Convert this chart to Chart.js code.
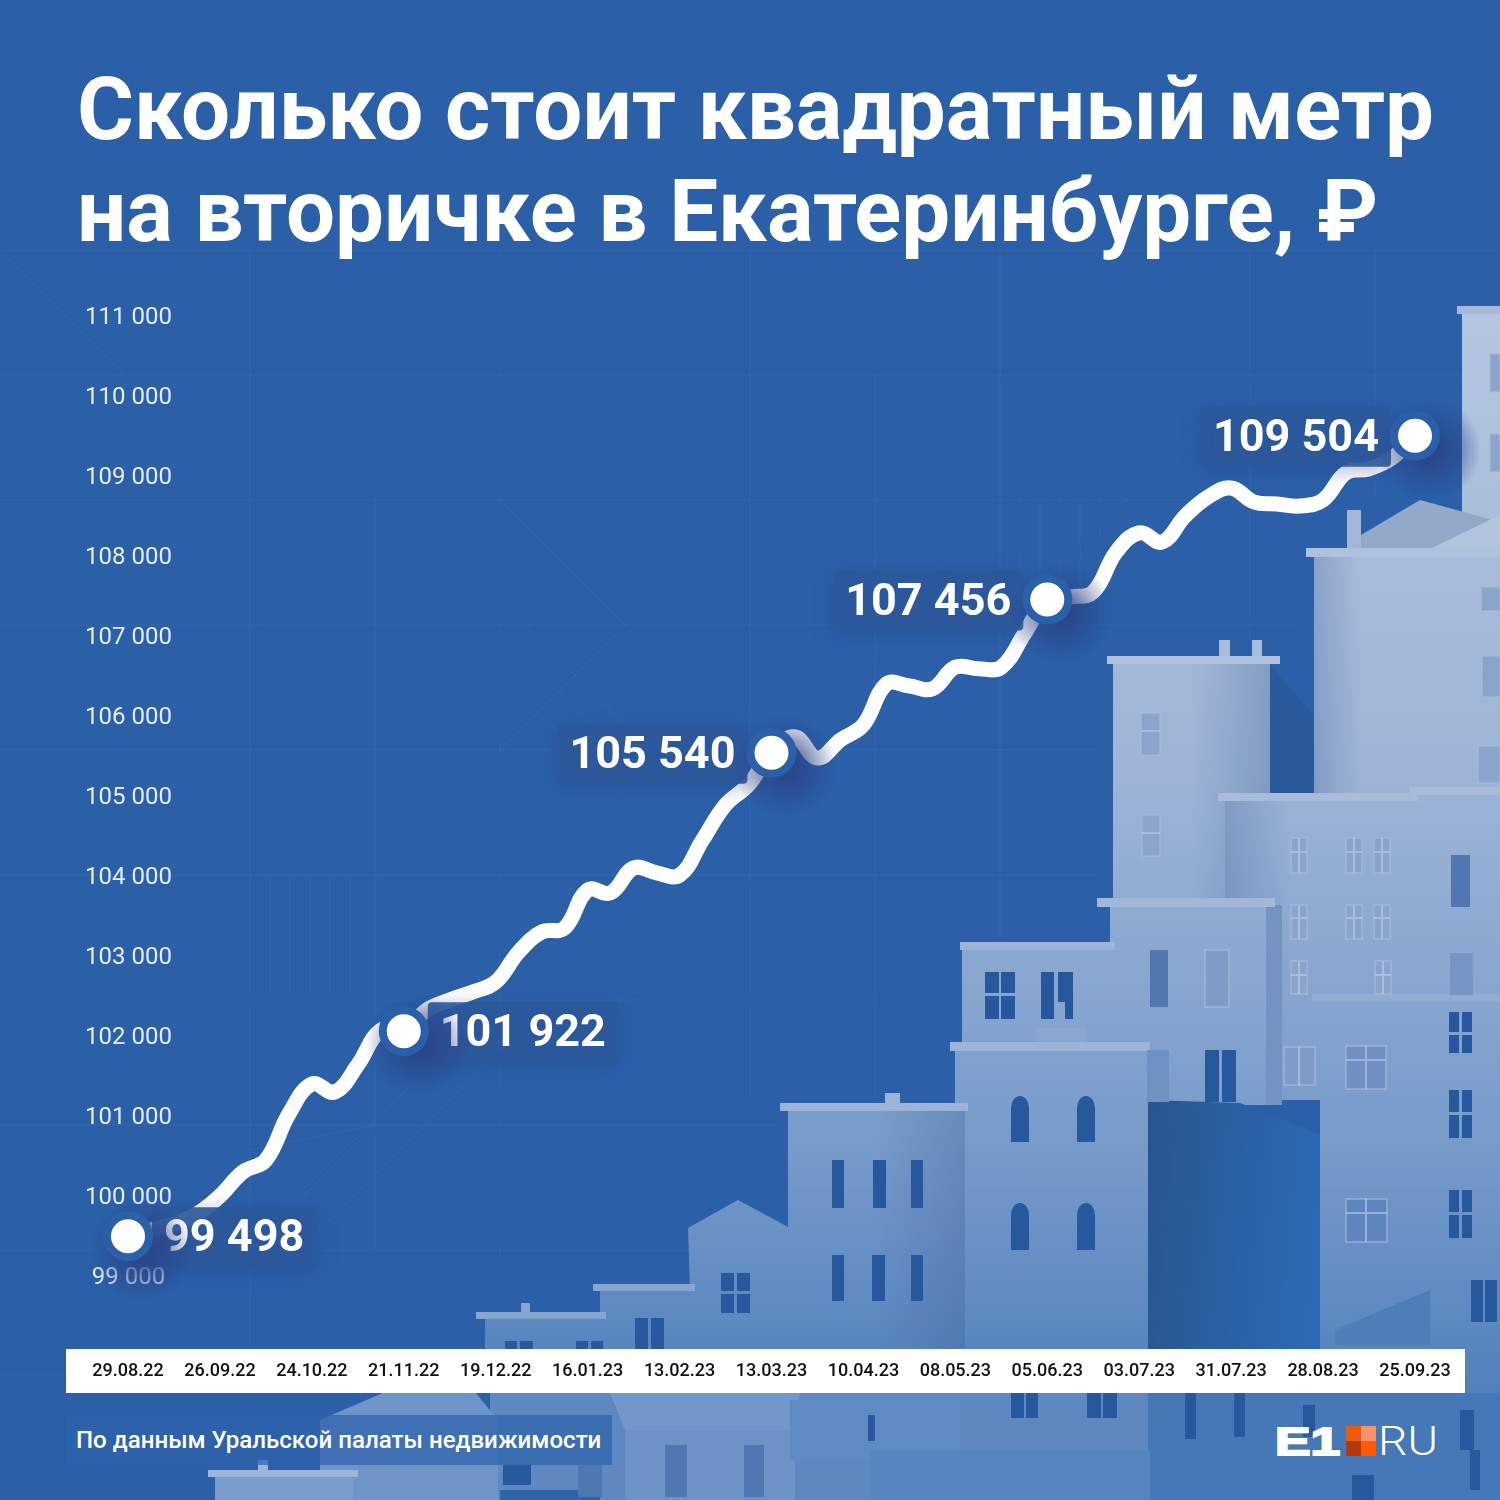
<!DOCTYPE html>
<html lang="ru">
<head>
<meta charset="utf-8">
<title>Сколько стоит квадратный метр</title>
<script src="https://cdn.jsdelivr.net/npm/chart.js@4"></script>
<style>
  html, body { margin: 0; padding: 0; background: #2b60a8; }
  #page { position: relative; width: 1500px; height: 1500px; overflow: hidden; background: #2b60a8; font-family: Roboto, sans-serif; color: #fff; }
  #bg, #chart { position: absolute; left: 0; top: 0; }
  #title { position: absolute; left: 77px; top: 58px; margin: 0; font-size: 87px; line-height: 102px; font-weight: 700; white-space: nowrap; }
  #band { position: absolute; left: 66px; top: 1349px; width: 1399px; height: 44px; background: #fff; }
  #source { position: absolute; left: 66px; top: 1415px; width: 546px; height: 50px; line-height: 50px; box-sizing: border-box; padding-left: 10px; background: rgba(46,98,170,.72); font-size: 24.1px; font-weight: 500; white-space: nowrap; }
  #logo { position: absolute; left: 1275px; top: 1426px; width: 165px; height: 30px; }
</style>
</head>
<body>
<div id="page">
  <!-- фон: сетка и дома, чисто декоративно -->
  <svg id="bg" width="1500" height="1500" viewBox="0 0 1500 1500" xmlns="http://www.w3.org/2000/svg">
    <defs>
      <linearGradient id="house" gradientUnits="userSpaceOnUse" x1="0" y1="300" x2="0" y2="1500">
        <stop offset="0" stop-color="#b5c6e0"/>
        <stop offset="0.4" stop-color="#9db4d6"/>
        <stop offset="0.7" stop-color="#789bca"/>
        <stop offset="0.9" stop-color="#5482bd"/>
        <stop offset="1" stop-color="#3f70b2"/>
      </linearGradient>
      <linearGradient id="wall" x1="0" y1="0" x2="1" y2="0.2">
        <stop offset="0" stop-color="#28558f"/>
        <stop offset="1" stop-color="#2c6ab4"/>
      </linearGradient>
      <linearGradient id="shadeR" x1="0" y1="0" x2="1" y2="0">
        <stop offset="0.5" stop-color="#3d5f96" stop-opacity="0"/>
        <stop offset="1" stop-color="#3d5f96" stop-opacity=".3"/>
      </linearGradient>
      <linearGradient id="shadeL" x1="0" y1="0" x2="1" y2="0">
        <stop offset="0" stop-color="#3d5f96" stop-opacity=".28"/>
        <stop offset="0.35" stop-color="#3d5f96" stop-opacity="0"/>
      </linearGradient>
    </defs>
    <g stroke="#fff" stroke-opacity=".04" fill="none">
      <path d="M0 250H1500M0 375H1500M0 500H1300M0 625H1300M0 750H1100M0 875H1100M0 1000H960M0 1125H780M0 1250H690M0 1375H480"/>
      <path d="M250 250V1400M375 500V1250M500 250V1300M750 250V1100M875 375V1100M1000 250V940M1250 250V640M1375 250V500"/>
      <path d="M0 250L125 375M250 625L375 750M500 500L625 625M625 625L500 750M375 1125L250 1250M500 1000L375 875M750 875L625 1000M875 500L1000 625M1000 375L1250 625M1250 375L1000 625"/>
      <path d="M270 875V1000M290 875V1000M310 875V1000M330 875V1000M350 875V1000M1020 500V625M1040 500V625M1060 500V625M1080 500V625M1100 500V625"/>
      <path d="M250 1150L375 1125M250 1240L500 1000M300 1250L500 1050M525 625L625 725M525 660L625 760M525 700L620 795"/>
    </g>

    <!-- дальние дома -->
    <rect x="1462" y="312" width="38" height="220" fill="url(#house)"/>
    <rect x="1457" y="306" width="43" height="8" fill="#a5b9d8"/>
    <polygon points="1361,535 1420,500 1500,522 1440,550 1361,550" fill="#94a9ca"/>
    <polygon points="1432,548 1500,515 1500,552" fill="#b3c4de"/>
    <rect x="1347" y="510" width="14" height="40" fill="#a2b6d6"/>

    <rect x="1314" y="556" width="131" height="250" fill="url(#house)"/>
    <rect x="1314" y="556" width="131" height="250" fill="url(#shadeL)"/>
    <rect x="1445" y="552" width="55" height="250" fill="url(#house)"/>
    <rect x="1306" y="548" width="194" height="9" fill="#afc1dc"/>

    <polygon points="1270,665 1314,715 1314,795 1270,795" fill="#2a5a9c"/>
    <rect x="1113" y="662" width="157" height="245" fill="url(#house)"/>
    <rect x="1113" y="662" width="157" height="245" fill="url(#shadeR)"/>
    <rect x="1219" y="640" width="11" height="18" fill="#a9bcda"/>
    <rect x="1252" y="640" width="10" height="18" fill="#a9bcda"/>
    <rect x="1107" y="656" width="173" height="8" fill="#afc1dc"/>

    <rect x="1225" y="800" width="190" height="300" fill="url(#house)"/>
    <rect x="1225" y="800" width="190" height="300" fill="url(#shadeL)"/>
    <rect x="1415" y="792" width="85" height="300" fill="url(#house)"/>
    <rect x="1218" y="793" width="200" height="8" fill="#a9bcda"/>
    <rect x="1410" y="787" width="90" height="8" fill="#a9bcda"/>

    <rect x="1110" y="905" width="156" height="200" fill="url(#house)"/>
    <rect x="1266" y="905" width="16" height="200" fill="#7593c0"/>
    <rect x="1097" y="898" width="178" height="9" fill="#a3b8d8"/>

    <polygon points="1148,1100 1240,1103 1322,1135 1322,1500 1148,1500" fill="url(#wall)"/>

    <rect x="1320" y="1000" width="180" height="500" fill="url(#house)"/>
    <rect x="1312" y="994" width="188" height="8" fill="#93acd2"/>
    <polygon points="1335,1330 1430,1290 1430,1345 1335,1345" fill="#4f7db8"/>

    <rect x="962" y="950" width="150" height="100" fill="url(#house)"/>
    <rect x="960" y="942" width="155" height="8" fill="#9db4d6"/>
    <rect x="955" y="1050" width="193" height="300" fill="url(#house)"/>
    <rect x="950" y="1042" width="200" height="9" fill="#9db4d6"/>
    <rect x="1036" y="1028" width="50" height="14" fill="#8aa6cf"/>

    <rect x="788" y="1110" width="177" height="240" fill="url(#house)"/>
    <rect x="788" y="1110" width="177" height="240" fill="url(#shadeR)"/>
    <rect x="780" y="1103" width="188" height="8" fill="#9db4d6"/>
    <rect x="885" y="1093" width="15" height="10" fill="#9db4d6"/>

    <polygon points="688,1228 738,1200 790,1228 790,1350 692,1350" fill="url(#house)"/>
    <rect x="600" y="1291" width="92" height="60" fill="url(#house)"/>
    <rect x="593" y="1284" width="102" height="7" fill="#88a5cf"/>
    <rect x="485" y="1318" width="115" height="32" fill="url(#house)"/>
    <rect x="476" y="1312" width="130" height="7" fill="#88a5cf"/>
    <rect x="521" y="1303" width="9" height="9" fill="#88a5cf"/>

    <!-- нижний ряд под белой полосой -->
    <rect x="490" y="1393" width="660" height="107" fill="#5f88c1"/>
    <rect x="1148" y="1393" width="352" height="107" fill="#4677b6"/>
    <polygon points="320,1420 385,1392 475,1392 498,1420 498,1500 320,1500" fill="#6f94c8"/>
    <polygon points="610,1393 800,1393 790,1430 712,1448 625,1430" fill="#7297cb"/>
    <rect x="625" y="1430" width="170" height="70" fill="#6d92c7"/>
    <rect x="790" y="1400" width="170" height="60" fill="#608ac3"/>
    <rect x="870" y="1450" width="280" height="50" fill="#5785c0"/>
    <rect x="500" y="1490" width="100" height="10" fill="#2e64ad"/>
    <rect x="215" y="1476" width="138" height="24" fill="#7a9ccd"/>
    <rect x="208" y="1470" width="150" height="7" fill="#9cb5d9"/>
    <rect x="258" y="1460" width="10" height="10" fill="#9cb5d9"/>

    <!-- окна светлые -->
    <g fill="#8aa4cb" stroke="#a9bcd9" stroke-width="2" stroke-opacity=".55">
      <rect x="1141" y="713" width="19" height="42"/>
      <rect x="1142" y="815" width="18" height="41"/>
      <rect x="1291" y="838" width="16" height="35"/><rect x="1346" y="838" width="16" height="35"/><rect x="1374" y="838" width="16" height="35"/>
      <rect x="1291" y="905" width="16" height="34"/><rect x="1346" y="905" width="16" height="34"/><rect x="1374" y="905" width="16" height="34"/>
      <rect x="1291" y="961" width="16" height="33"/><rect x="1375" y="961" width="16" height="33"/>
      <rect x="1205" y="950" width="24" height="57" fill="#7f9cc8"/>
      <rect x="1284" y="1047" width="31" height="38" fill="#7f9cc8"/>
      <rect x="1346" y="1046" width="40" height="43" fill="#6f90c0"/>
      <rect x="1346" y="1199" width="41" height="43" fill="#5e85bd"/>
      <rect x="1481" y="587" width="19" height="24"/>
      <rect x="1482" y="656" width="18" height="41"/>
      <rect x="1478" y="746" width="22" height="37"/>
      <rect x="1490" y="354" width="10" height="38"/>
      <rect x="1490" y="434" width="10" height="38"/>
    </g>
    <!-- переплёты светлых окон -->
    <path stroke="#c0cee4" stroke-opacity=".6" stroke-width="2" fill="none" d="M1299 838V873M1354 838V873M1382 838V873M1299 905V939M1354 905V939M1382 905V939M1299 961V994M1383 961V994M1291 852H1307M1346 852H1362M1374 852H1390M1291 918H1307M1346 918H1362M1374 918H1390M1291 975H1307M1375 975H1391M1299 1047V1085M1366 1046V1089M1366 1199V1242M1346 1060H1386M1346 1213H1387M1141 731H1160M1142 833H1160"/>
    <!-- окна средние -->
    <g fill="#5177b0">
      <rect x="1150" y="950" width="18" height="57"/>
      <rect x="1451" y="855" width="19" height="52"/>
      <rect x="1450" y="953" width="23" height="42" fill="#7795c3"/>
      <rect x="1147" y="1050" width="22" height="52" fill="#7092c2"/>
    </g>
    <!-- окна тёмные -->
    <g fill="#27589e">
      <rect x="985" y="972" width="14" height="21"/><rect x="1001" y="972" width="14" height="21"/>
      <rect x="985" y="996" width="14" height="23"/><rect x="1001" y="996" width="14" height="23"/>
      <rect x="1041" y="972" width="13" height="47"/><rect x="1058" y="972" width="15" height="30"/><rect x="1065" y="1002" width="8" height="17"/>
      <rect x="1205" y="1050" width="14" height="52"/><rect x="1222" y="1050" width="14" height="52"/>
      <path d="M1011 1142V1108a9 12 0 0 1 18 0V1142Z"/><path d="M1077 1142V1108a9 12 0 0 1 18 0V1142Z"/>
      <path d="M1011 1250V1215a9 12 0 0 1 18 0V1250Z"/><path d="M1077 1250V1215a9 12 0 0 1 18 0V1250Z"/>
      <rect x="832" y="1160" width="12" height="48"/><rect x="873" y="1160" width="13" height="48"/><rect x="911" y="1160" width="12" height="48"/>
      <rect x="832" y="1255" width="12" height="46"/><rect x="872" y="1255" width="13" height="46"/><rect x="911" y="1255" width="12" height="46"/>
      <rect x="721" y="1273" width="13" height="18"/><rect x="737" y="1273" width="13" height="18"/>
      <rect x="721" y="1294" width="13" height="19"/><rect x="737" y="1294" width="13" height="19"/>
      <rect x="635" y="1318" width="13" height="31"/><rect x="651" y="1318" width="13" height="31"/>
      <rect x="505" y="1341" width="12" height="9"/><rect x="520" y="1341" width="13" height="9"/>
      <rect x="576" y="1341" width="12" height="9"/><rect x="591" y="1341" width="12" height="9"/>
      <rect x="1449" y="1012" width="10" height="20"/><rect x="1462" y="1012" width="10" height="20"/>
      <rect x="1449" y="1035" width="10" height="18"/><rect x="1462" y="1035" width="10" height="18"/>
      <rect x="1449" y="1090" width="10" height="22"/><rect x="1462" y="1090" width="10" height="22"/>
      <rect x="1449" y="1115" width="10" height="23"/><rect x="1462" y="1115" width="10" height="23"/>
      <rect x="1449" y="1190" width="10" height="22"/><rect x="1462" y="1190" width="10" height="22"/>
      <rect x="1449" y="1215" width="10" height="23"/><rect x="1462" y="1215" width="10" height="23"/>
      <rect x="1471" y="1280" width="12" height="42"/><rect x="1485" y="1280" width="12" height="42"/>
      <rect x="1011" y="1393" width="13" height="25"/><rect x="1026" y="1393" width="12" height="25"/>
      <rect x="1087" y="1393" width="14" height="25"/><rect x="1103" y="1393" width="14" height="25"/>
      <rect x="1185" y="1393" width="11" height="46"/><rect x="1234" y="1393" width="11" height="44"/>
      <rect x="1303" y="1405" width="12" height="32"/>
      <rect x="1460" y="1410" width="14" height="40"/>
      <rect x="1470" y="1450" width="10" height="40"/>
      <rect x="1352" y="1475" width="22" height="25"/>
      <rect x="868" y="1415" width="7" height="26"/>
      <rect x="665" y="1445" width="22" height="52" fill="#4f78b3"/>
      <rect x="744" y="1445" width="20" height="52" fill="#4f78b3"/>
      <rect x="578" y="1465" width="24" height="32" fill="#4f78b3"/>
      <rect x="503" y="1465" width="28" height="20"/>
    </g>
  </svg>

  <h1 id="title">Сколько стоит квадратный метр<br>на вторичке в Екатеринбурге, ₽</h1>
  <div id="band"></div>
  <div id="source">По данным Уральской палаты недвижимости</div>
  <svg id="logo" viewBox="0 0 165 30" xmlns="http://www.w3.org/2000/svg">
    <text x="0" y="29" font-family="Liberation Sans" font-weight="700" font-size="39" textLength="65" lengthAdjust="spacingAndGlyphs" fill="#fff" stroke="#fff" stroke-width="2">E1</text>
    <rect x="71" y="0" width="15" height="15" fill="#f0590b"/>
    <rect x="86" y="0" width="15" height="15" fill="#f4946e"/>
    <rect x="71" y="15" width="15" height="15" fill="#b13a08"/>
    <rect x="86" y="15" width="15" height="15" fill="#ff5a00"/>
    <text x="103" y="29" font-family="Roboto" font-weight="300" font-size="41" textLength="60" lengthAdjust="spacingAndGlyphs" fill="#fff">RU</text>
  </svg>
  <canvas id="chart" width="1500" height="1500"></canvas>
</div>

<script>
// недели: подпись на оси стоит у каждой четвёртой
const weeks = [
  '29.08.22','05.09.22','12.09.22','19.09.22','26.09.22','03.10.22','10.10.22','17.10.22','24.10.22','31.10.22',
  '07.11.22','14.11.22','21.11.22','28.11.22','05.12.22','12.12.22','19.12.22','26.12.22','02.01.23','09.01.23',
  '16.01.23','23.01.23','30.01.23','06.02.23','13.02.23','20.02.23','27.02.23','06.03.23','13.03.23','20.03.23',
  '27.03.23','03.04.23','10.04.23','17.04.23','24.04.23','01.05.23','08.05.23','15.05.23','22.05.23','29.05.23',
  '05.06.23','12.06.23','19.06.23','26.06.23','03.07.23','10.07.23','17.07.23','24.07.23','31.07.23','07.08.23',
  '14.08.23','21.08.23','28.08.23','04.09.23','11.09.23','18.09.23','25.09.23'
];

// значения. Точка 21.11.22 на оригинале нарисована выше своей подписи,
// поэтому в ряду стоит её положение на графике, а подпись 101 922 лежит отдельно
const prices = [
  99498, 99575, 99650, 99775, 100000, 100300, 100450, 101025, 101400, 101300,
  101640, 102075, 102060, 102325, 102450, 102550, 102675, 103050, 103300, 103350,
  103825, 103790, 104100, 104040, 104010, 104450, 104890, 105140, 105540, 105740,
  105475, 105700, 105890, 106400, 106375, 106340, 106610, 106590, 106610, 107025,
  107456, 107490, 107550, 108050, 108290, 108175, 108500, 108740, 108850, 108675,
  108650, 108625, 108700, 109040, 109090, 109225, 109504
];

const yTickLabels = ['99 000','100 000','101 000','102 000','103 000','104 000','105 000','106 000','107 000','108 000','109 000','110 000','111 000'];

const calloutWeeks = ['29.08.22','21.11.22','13.03.23','05.06.23','25.09.23'];
const calloutLabels = ['99 498','101 922','105 540','107 456','109 504'];
const calloutSides = ['right','right','left','left','left'];

const calloutPoints = weeks.map((w, i) => calloutWeeks.includes(w) ? prices[i] : null);

// плашки с подписями и тень под точками: рисуем между линией и кружками
const calloutPlugin = {
  id: 'callouts',
  beforeDatasetDraw(chart, args) {
    if (args.index !== 1) return;
    const ctx = chart.ctx;
    calloutWeeks.forEach((w, k) => {
      const pt = args.meta.data[weeks.indexOf(w)];
      const right = calloutSides[k] === 'right';
      ctx.save();
      ctx.font = '700 45px Roboto';
      const tw = ctx.measureText(calloutLabels[k]).width;
      const boxW = tw + 24;
      const boxX = right ? pt.x + 24 : pt.x - 24 - boxW;
      ctx.fillStyle = 'rgba(44,88,155,.9)';
      ctx.shadowColor = 'rgba(36,62,125,.4)';
      ctx.shadowBlur = 20;
      ctx.shadowOffsetY = 4;
      ctx.beginPath();
      ctx.roundRect(boxX, pt.y - 29, boxW, 60, 4);
      ctx.fill();
      ctx.shadowColor = 'transparent';
      ctx.fillStyle = '#fff';
      ctx.textBaseline = 'middle';
      ctx.textAlign = right ? 'left' : 'right';
      ctx.fillText(calloutLabels[k], right ? boxX + 12 : boxX + boxW - 12, pt.y + 4);
      const g = ctx.createRadialGradient(pt.x + 14, pt.y + 14, 10, pt.x + 14, pt.y + 14, 52);
      g.addColorStop(0, 'rgba(42,66,135,.85)');
      g.addColorStop(1, 'rgba(42,66,135,0)');
      ctx.fillStyle = g;
      ctx.fillRect(pt.x - 40, pt.y - 40, 110, 110);
      ctx.restore();
    });
  }
};

document.addEventListener('DOMContentLoaded', function () {
  new Chart(document.getElementById('chart').getContext('2d'), {
    type: 'line',
    data: {
      labels: weeks,
      datasets: [
        {
          label: 'Цена за квадратный метр',
          data: prices,
          order: 2,
          borderColor: '#fff',
          borderWidth: 15,
          borderCapStyle: 'round',
          borderJoinStyle: 'round',
          tension: 0.4,
          pointRadius: 0,
          fill: false,
          clip: false
        },
        {
          label: 'Отметки',
          data: calloutPoints,
          order: 1,
          showLine: false,
          pointRadius: 21,
          pointBorderWidth: 8,
          pointBackgroundColor: '#fff',
          pointBorderColor: '#2b60a8',
          clip: false
        }
      ]
    },
    options: {
      responsive: false,
      animation: false,
      devicePixelRatio: 1,
      layout: { padding: { top: 316, left: 128, right: 85, bottom: 0 } },
      plugins: { legend: { display: false }, tooltip: { enabled: false }, title: { display: false } },
      scales: {
        x: {
          grid: { display: false, drawTicks: false },
          border: { display: false },
          afterFit(scale) {
            scale.height = 224;
            scale.paddingLeft = 0;
            scale.paddingRight = 0;
          },
          ticks: {
            autoSkip: false,
            maxRotation: 0,
            padding: 85,
            color: '#111',
            font: { family: 'Roboto', size: 18, weight: '500' },
            callback(value, index) { return index % 4 === 0 ? weeks[index] : ''; }
          }
        },
        y: {
          min: 99000,
          max: 111000,
          grid: { display: false, drawTicks: false },
          border: { display: false },
          afterFit(scale) { scale.width = 0; },
          ticks: {
            stepSize: 1000,
            mirror: true,
            crossAlign: 'center',
            padding: -43,
            labelOffset: 2,
            color: '#e6edf7',
            font: { family: 'Roboto', size: 24 },
            callback(value, index) { return yTickLabels[index]; }
          }
        }
      }
    },
    plugins: [calloutPlugin]
  });
});
</script>
</body>
</html>
